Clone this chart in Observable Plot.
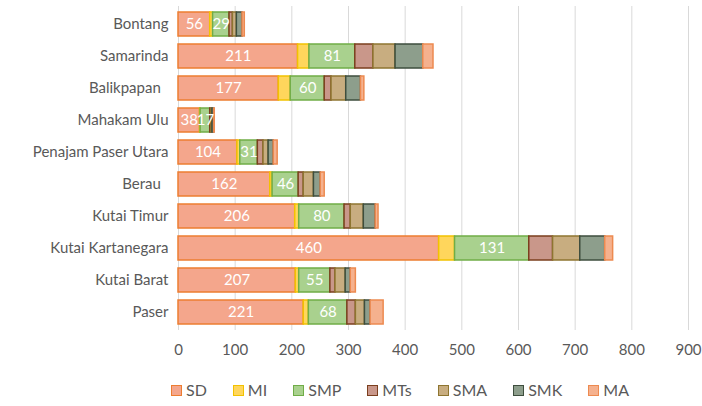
<!DOCTYPE html>
<html><head><meta charset="utf-8">
<script src="https://cdn.jsdelivr.net/npm/d3@7"></script>
<script src="https://cdn.jsdelivr.net/npm/@observablehq/plot@0.6"></script>
<style>
body{margin:0;background:#fff;font-family:Lato,"Open Sans",sans-serif;}
#legend{display:flex;gap:0;margin-left:171px;margin-top:9px;font-size:16px;line-height:18px;color:#595959;}
#legend span.item{display:flex;align-items:center;margin-right:26px;}
#legend span.sw{display:inline-block;width:9px;height:9px;margin-right:4px;border:1.5px solid;}
</style></head>
<body>
<div id="chart"></div>
<div id="legend"></div>
<script>
const regions = ["Bontang","Samarinda","Balikpapan ","Mahakam Ulu","Penajam Paser Utara","Berau ","Kutai Timur","Kutai Kartanegara","Kutai Barat","Paser"];
const series = ["SD","MI","SMP","MTs","SMA","SMK","MA"];
const SD  = [56,211,177,38,104,162,206,460,207,221];
const MI  = [5,20,21,1,5,4,7,28,6,9];
const SMP = [29,81,60,17,31,46,80,131,55,68];
const MTs = [6,32,12,2,10,9,11,42,9,15];
const SMA = [7,39,26,2,9,18,23,48,18,16];
const SMK = [10,49,26,3,9,12,21,44,9,10];
const MA  = [4,18,6,1,7,7,5,14,9,23];
const xTicks = [0,100,200,300,400,500,600,700,800,900];
const fills   = ["#F4A68C","#FFD65C","#A9D18E","#C9978A","#C8AD80","#8D9E8C","#F5B18E"];
const strokes = ["#ED7D31","#F2C200","#70AD47","#7B3F1E","#8E7530","#3E4E3E","#ED8A50"];

const valuesBySeries = [SD,MI,SMP,MTs,SMA,SMK,MA];
const data = [];
regions.forEach((r,i)=>{
  series.forEach((s,j)=>{
    data.push({region:r, series:s, value:valuesBySeries[j][i], label:(s==="SD"||s==="SMP")?String(valuesBySeries[j][i]):""});
  });
});

const chart = Plot.plot({
  width:702, height:372,
  marginLeft:178, marginRight:14, marginTop:6, marginBottom:42,
  style:{fontFamily:"Lato, 'Open Sans', sans-serif", fontSize:"15px", color:"#595959"},
  x:{domain:[0,900], ticks:xTicks, label:null},
  y:{domain:regions, padding:0, label:null},
  color:{domain:series, range:fills},
  marks:[
    Plot.ruleX(xTicks,{stroke:"#d9d9d9", strokeWidth:1}),
    Plot.barX(data, Plot.stackX({x:"value", y:"region", z:"series", order:null,
      fill:"series", stroke:d=>strokes[series.indexOf(d.series)], strokeWidth:1.5, insetTop:4, insetBottom:4})),
    Plot.text(data, Plot.stackX({x:"value", y:"region", z:"series", order:null, text:"label",
      fill:"#fff", fontSize:15})),
    Plot.axisX({ticks:xTicks, tickSize:0, tickPadding:14, fontSize:15, fill:"#595959"}),
    Plot.axisY({tickSize:0, tickPadding:10, fontSize:15, fill:"#595959", tickFormat:d=>d.replace(/ $/,"\u00A0\u00A0")})
  ]
});
chart.style.display = "block";
document.getElementById("chart").appendChild(chart);

const lg = document.getElementById("legend");
series.forEach((s,j)=>{
  const it = document.createElement("span"); it.className="item";
  const sw = document.createElement("span"); sw.className="sw";
  sw.style.background = fills[j]; sw.style.borderColor = strokes[j];
  it.appendChild(sw); it.appendChild(document.createTextNode(s));
  lg.appendChild(it);
});
</script>
</body></html>
